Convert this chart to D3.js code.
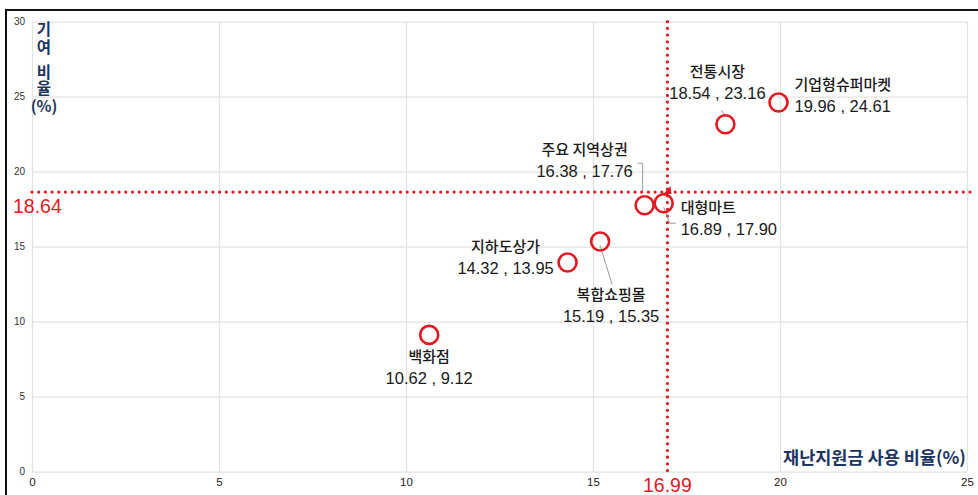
<!DOCTYPE html>
<html>
<head>
<meta charset="utf-8">
<script src="https://cdn.jsdelivr.net/npm/d3@7"></script>
<style>
  html, body { margin: 0; padding: 0; background: #fff; }
  svg { display: block; }
</style>
</head>
<body>
<svg id="chart" width="978" height="495"></svg>
<script>
// 업태별 재난지원금 사용 비율(x)과 기여 비율(y)
const categories = ["백화점", "지하도상가", "복합쇼핑몰", "주요 지역상권", "대형마트", "전통시장", "기업형슈퍼마켓"];
const usageRatio = [10.62, 14.32, 15.19, 16.38, 16.89, 18.54, 19.96];
const contributionRatio = [9.12, 13.95, 15.35, 17.76, 17.90, 23.16, 24.61];
const xTicks = [0, 5, 10, 15, 20, 25];
const yTicks = [0, 5, 10, 15, 20, 25, 30];
const meanUsage = 16.99;
const meanContribution = 18.64;

// label placement relative to each point: offset of the name line, text anchor, optional leader path
const labelLayout = [
  { dx: 0, dy: 27, anchor: "middle" },
  { dx: -62, dy: -10, anchor: "middle" },
  { dx: 11, dy: 59, anchor: "middle", leader: [[0, 4], [12, 43]] },
  { dx: -60, dy: -50, anchor: "middle", leader: [[-7, -42], [-2, -42], [-2, -14]] },
  { dx: 17, dy: 10, anchor: "start", leader: [[0, 4], [6, 20], [12, 20]] },
  { dx: -8, dy: -47, anchor: "middle", leader: [[0, -8], [-4, -14]] },
  { dx: 16, dy: -13, anchor: "start" }
];

const data = categories.map((c, i) => ({ name: c, x: usageRatio[i], y: contributionRatio[i], layout: labelLayout[i] }));

const svg = d3.select("#chart");
const x = d3.scaleLinear().domain([0, 25]).range([32, 967]);
const y = d3.scaleLinear().domain([0, 30]).range([471.7, 21.7]);

const red = "#e3191f";
const navy = "#1d3461";
const textFont = "'Liberation Sans', Arial, 'Noto Sans CJK KR', sans-serif";
const korFont = "'Noto Sans CJK KR', 'Liberation Sans', sans-serif";

// frame
svg.append("line").attr("x1", 6).attr("x2", 978).attr("y1", 10).attr("y2", 10)
  .attr("stroke", "#111").attr("stroke-width", 2);
svg.append("line").attr("x1", 6).attr("x2", 6).attr("y1", 9).attr("y2", 495)
  .attr("stroke", "#111").attr("stroke-width", 2);

// grid + tick labels
const yAxis = svg.append("g").attr("transform", `translate(${x(0)},0)`)
  .call(d3.axisLeft(y).tickValues(yTicks).tickSize(-(x(25) - x(0))).tickPadding(7).tickFormat(d3.format("d")));
yAxis.select(".domain").remove();
yAxis.selectAll(".tick line").attr("stroke", "#e2e2e2").attr("stroke-width", 1.2);
yAxis.selectAll(".tick text").attr("font-family", textFont).attr("font-size", 10).attr("fill", "#333");

const xAxis = svg.append("g").attr("transform", `translate(0,${y(0)})`)
  .call(d3.axisBottom(x).tickValues(xTicks).tickSize(-(y(0) - y(30))).tickPadding(6).tickFormat(d3.format("d")));
xAxis.select(".domain").remove();
xAxis.selectAll(".tick line").attr("stroke", "#e2e2e2").attr("stroke-width", 1.2);
xAxis.selectAll(".tick text").attr("font-family", textFont).attr("font-size", 11.5).attr("fill", "#222");

// mean reference lines
const dotted = { "stroke": red, "stroke-width": 3.2, "stroke-linecap": "round", "stroke-dasharray": "0,6.7" };
const hLine = svg.append("line").attr("x1", x(0)).attr("x2", 970)
  .attr("y1", y(meanContribution)).attr("y2", y(meanContribution));
const vLine = svg.append("line").attr("x1", x(meanUsage)).attr("x2", x(meanUsage))
  .attr("y1", y(30)).attr("y2", y(0));
[hLine, vLine].forEach(l => Object.entries(dotted).forEach(([k, v]) => l.attr(k, v)));

// small marker where the mean lines cross
const cx = x(meanUsage), cy = y(meanContribution);
svg.append("path")
  .attr("d", `M${cx - 4},${cy + 2} L${cx + 3},${cy - 6} L${cx + 4},${cy + 2} Z`)
  .attr("fill", red);

svg.append("text").attr("x", x(meanUsage)).attr("y", 492).attr("text-anchor", "middle")
  .attr("font-family", textFont).attr("font-size", 19.5).attr("fill", red).text(meanUsage.toFixed(2));
svg.append("text").attr("x", 13).attr("y", y(meanContribution) + 21)
  .attr("font-family", textFont).attr("font-size", 19.5).attr("fill", red).text(meanContribution.toFixed(2));

// axis titles
const yTitleLines = [["기", 35], ["여", 53], ["비", 78], ["율", 94], ["(%)", 112]];
svg.append("g").selectAll("text").data(yTitleLines).join("text")
  .attr("x", 44).attr("y", d => d[1]).attr("text-anchor", "middle")
  .attr("font-family", korFont).attr("font-size", 15.5).attr("font-weight", 700)
  .attr("fill", navy).text(d => d[0]);
svg.append("text").attr("x", 966).attr("y", 464).attr("text-anchor", "end")
  .attr("font-family", korFont).attr("font-size", 17.5).attr("font-weight", 700)
  .attr("fill", navy).text("재난지원금 사용 비율(%)");

// leader lines
svg.append("g").selectAll("path").data(data.filter(d => d.layout.leader)).join("path")
  .attr("d", d => d3.line()(d.layout.leader.map(p => [x(d.x) + p[0], y(d.y) + p[1]])))
  .attr("fill", "none").attr("stroke", "#9a9a9a").attr("stroke-width", 1);

// points
svg.append("g").selectAll("circle").data(data).join("circle")
  .attr("cx", d => x(d.x)).attr("cy", d => y(d.y)).attr("r", 9)
  .attr("fill", "none").attr("stroke", red).attr("stroke-width", 2.6);

// labels
const labels = svg.append("g").selectAll("g").data(data).join("g")
  .attr("transform", d => `translate(${x(d.x) + d.layout.dx},${y(d.y) + d.layout.dy})`);
labels.append("text").attr("text-anchor", d => d.layout.anchor)
  .attr("font-family", korFont).attr("font-size", 15).attr("font-weight", 500).attr("fill", "#1a1a1a")
  .text(d => d.name);
labels.append("text").attr("y", 22).attr("text-anchor", d => d.layout.anchor)
  .attr("font-family", textFont).attr("font-size", 16.5).attr("fill", "#1a1a1a")
  .text(d => `${d.x.toFixed(2)} , ${d.y.toFixed(2)}`);
</script>
</body>
</html>
